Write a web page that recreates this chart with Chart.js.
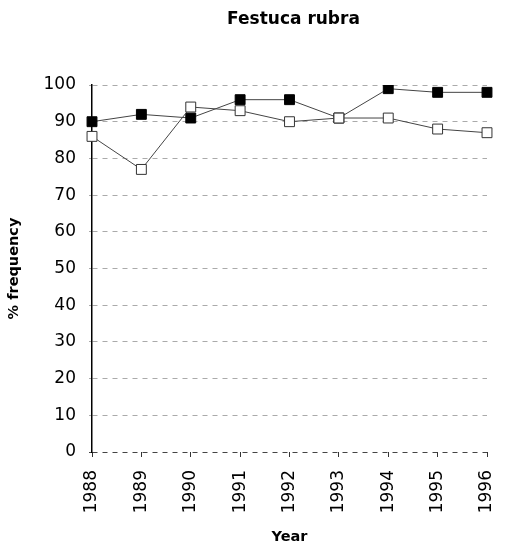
<!DOCTYPE html>
<html>
<head>
<meta charset="utf-8">
<title>Festuca rubra</title>
<script src="https://cdn.jsdelivr.net/npm/chart.js@4"></script>
<style>
  html, body { margin: 0; padding: 0; background: #fff; }
  #wrap { width: 505px; height: 553px; position: relative; }
</style>
</head>
<body>
<div id="wrap"><canvas id="festucaChart"></canvas></div>
<script>
// ========== Data ==========
const years = ['1988', '1989', '1990', '1991', '1992', '1993', '1994', '1995', '1996'];
const filledSeries = [90, 92, 91, 96, 96, 91, 99, 98, 98];
const openSeries = [86, 77, 94, 93, 90, 91, 91, 88, 87];
const yTicks = [0, 10, 20, 30, 40, 50, 60, 70, 80, 90, 100];

const chartTitle = 'Festuca rubra';
const FONT = "'DejaVu Sans', sans-serif";

// ========== Title over the plot centre + vertical year labels ==========
const extraText = {
    id: 'extraText',
    afterDraw(chart) {
        const { ctx, chartArea } = chart;
        const xScale = chart.scales.x;
        ctx.save();
        ctx.fillStyle = '#000';

        ctx.font = "bold 17px " + FONT;
        ctx.textAlign = 'center';
        ctx.textBaseline = 'middle';
        ctx.fillText(chartTitle, (chartArea.left + chartArea.right) / 2 + 4, 20);

        // year labels, reading bottom to top
        ctx.font = "17px " + FONT;
        ctx.textAlign = 'right';
        ctx.textBaseline = 'middle';
        xScale.ticks.forEach((t, i) => {
            const x = xScale.getPixelForTick(i);
            ctx.save();
            ctx.translate(x, chartArea.bottom + 18);
            ctx.rotate(-Math.PI / 2);
            ctx.fillText(xScale.getLabelForValue(t.value), 0, 0);
            ctx.restore();
        });
        ctx.restore();
    }
};

// ========== Chart ==========
function generateChart() {
    const ctx = document.getElementById('festucaChart').getContext('2d');
    new Chart(ctx, {
        type: 'line',
        data: {
            labels: years,
            datasets: [{
                label: 'open',
                data: openSeries,
                borderColor: '#444',
                borderWidth: 1,
                pointStyle: 'rect',
                pointRadius: 7,
                pointBackgroundColor: '#fff',
                pointBorderColor: '#333',
                pointBorderWidth: 1,
                tension: 0,
                order: 0
            }, {
                label: 'filled',
                data: filledSeries,
                borderColor: '#444',
                borderWidth: 1,
                pointStyle: 'rect',
                pointRadius: 7,
                pointBackgroundColor: '#000',
                pointBorderColor: '#000',
                pointBorderWidth: 1,
                tension: 0,
                order: 1
            }]
        },
        options: {
            responsive: true,
            maintainAspectRatio: false,
            animation: false,
            layout: { padding: { top: 85, right: 18, bottom: 0, left: 0 } },
            scales: {
                x: {
                    offset: false,
                    afterFit: (scale) => { scale.height = 101; },
                    grid: { drawOnChartArea: false, drawTicks: true, tickLength: 5, color: '#333' },
                    border: { display: false },
                    ticks: { display: false },
                    title: {
                        display: true, text: 'Year', color: '#000',
                        font: { family: FONT, size: 14.5, weight: 'bold' },
                        padding: { top: 4, bottom: 7 }
                    }
                },
                y: {
                    min: 0, max: 100,
                    afterFit: (scale) => { scale.width = 92; },
                    afterBuildTicks: (scale) => { scale.ticks = yTicks.map(v => ({ value: v })); },
                    grid: {
                        color: (c) => c.tick && c.tick.value === 0 ? '#444' : '#aaa',
                        lineWidth: 1, tickLength: 3
                    },
                    border: { color: '#000', width: 1.5, dash: [5, 5] },
                    ticks: {
                        padding: 13, color: '#000',
                        font: { family: FONT, size: 17 }
                    },
                    title: {
                        display: true, text: '% frequency', color: '#000',
                        font: { family: FONT, size: 14.5, weight: 'bold' },
                        padding: { top: 6, bottom: 0 }
                    }
                }
            },
            plugins: {
                legend: { display: false },
                tooltip: { enabled: false }
            }
        },
        plugins: [extraText]
    });
}

// ========== INIT ==========
document.addEventListener('DOMContentLoaded', () => {
    generateChart();
});
</script>
</body>
</html>
